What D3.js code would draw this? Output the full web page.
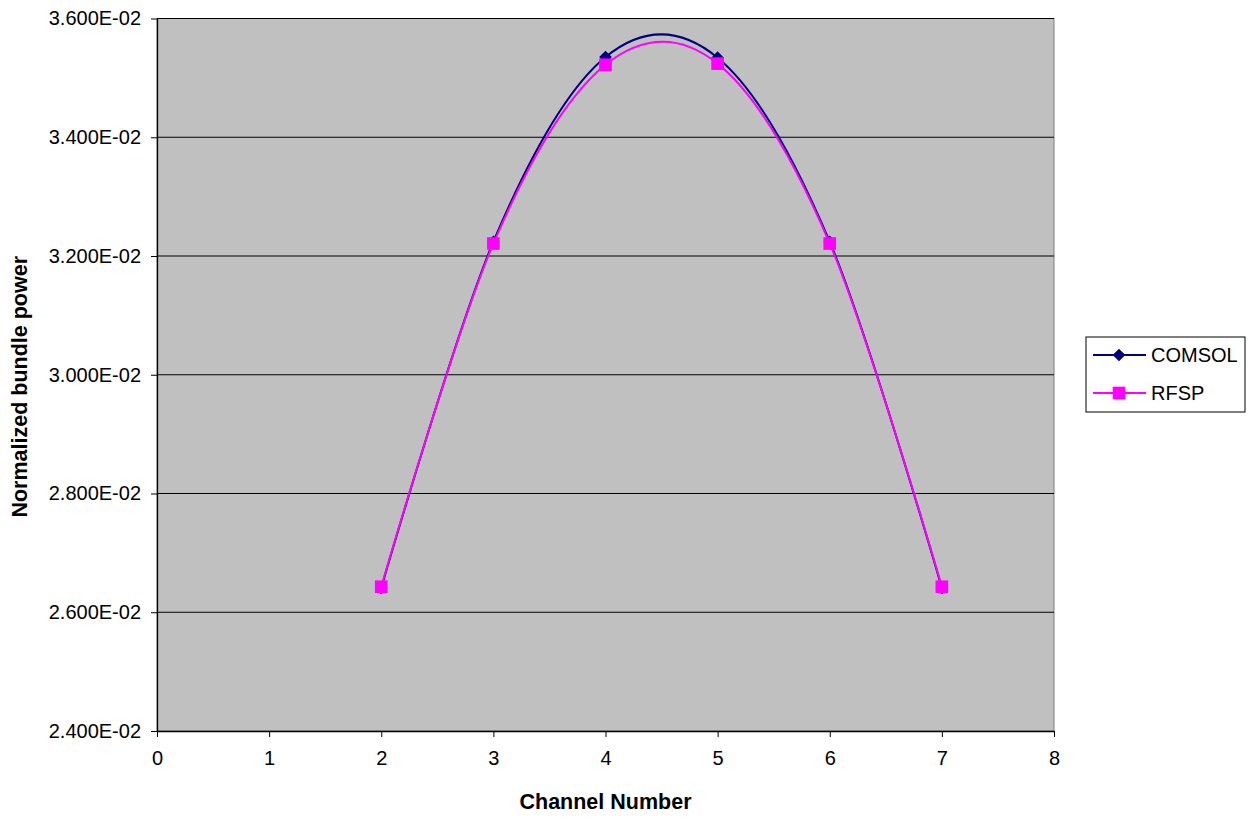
<!DOCTYPE html>
<html>
<head>
<meta charset="utf-8">
<script src="https://cdn.jsdelivr.net/npm/d3@7"></script>
<style>
  body { margin: 0; background: #fff; }
  text { font-family: "Liberation Sans", Arial, sans-serif; }
</style>
</head>
<body>
<div id="chart"></div>
<script>
const channels = [2, 3, 4, 5, 6, 7];
const comsol = [0.02641, 0.03224, 0.03535, 0.03534, 0.03224, 0.02641];
const rfsp = [0.02643, 0.03221, 0.03522, 0.03524, 0.03221, 0.02643];
const yTicks = [0.024, 0.026, 0.028, 0.030, 0.032, 0.034, 0.036];
const xTicks = [0, 1, 2, 3, 4, 5, 6, 7, 8];

const width = 1250, height = 820;
const margin = {left: 157, top: 18.5, right: 1054, bottom: 731};

const svg = d3.select('#chart').append('svg')
    .attr('width', width).attr('height', height);

const x = d3.scaleLinear().domain([0, 8]).range([margin.left, margin.right]);
const y = d3.scaleLinear().domain([0.024, 0.036]).range([margin.bottom, margin.top]);

// plot background
svg.append('rect')
    .attr('x', margin.left).attr('y', margin.top)
    .attr('width', margin.right - margin.left).attr('height', margin.bottom - margin.top)
    .attr('fill', '#c0c0c0').attr('stroke', '#808080').attr('stroke-width', 1);

// grid lines
svg.append('g').selectAll('line')
    .data(yTicks.slice(1))
    .enter().append('line')
    .attr('x1', margin.left).attr('x2', margin.right)
    .attr('y1', d => y(d)).attr('y2', d => y(d))
    .attr('stroke', '#000').attr('stroke-width', 1);

// axes
const fmt = d => d.toExponential(3).toUpperCase().replace(/E([+-])(\d)$/, 'E$10$2');
const yAxis = svg.append('g')
    .attr('transform', `translate(${margin.left},0)`)
    .call(d3.axisLeft(y).tickValues(yTicks).tickFormat(fmt).tickSize(6).tickSizeOuter(0));
const xAxis = svg.append('g')
    .attr('transform', `translate(0,${margin.bottom})`)
    .call(d3.axisBottom(x).tickValues(xTicks).tickFormat(d3.format('d')).tickSize(6).tickSizeOuter(0));

[yAxis, xAxis].forEach(a => {
    a.select('.domain').attr('stroke', '#000').attr('stroke-width', 1.3);
    a.selectAll('.tick line').attr('stroke', '#000');
    a.selectAll('.tick text').attr('font-size', 20).attr('fill', '#000')
        .attr('font-family', '"Liberation Sans", Arial, sans-serif');
});
yAxis.selectAll('.tick text').attr('x', -16);
xAxis.selectAll('.tick text').attr('y', 20);

// axis titles
svg.append('text')
    .attr('x', (margin.left + margin.right) / 2 + 0).attr('y', 809)
    .attr('text-anchor', 'middle').attr('font-size', 21.5).attr('font-weight', 'bold')
    .text('Channel Number');
svg.append('text')
    .attr('transform', `translate(27,${(margin.top + margin.bottom) / 2 + 12}) rotate(-90)`)
    .attr('text-anchor', 'middle').attr('font-size', 21.5).attr('font-weight', 'bold')
    .text('Normalized bundle power');

const series = [
    {name: 'COMSOL', values: comsol, color: '#000080', symbol: d3.symbolSquare, size: 80, rot: 45},
    {name: 'RFSP', values: rfsp, color: '#ff00ff', symbol: d3.symbolSquare, size: 160, rot: 0}
];

const line = d3.line()
    .x((d, i) => x(channels[i]))
    .y(d => y(d))
    .curve(d3.curveCatmullRom.alpha(0));

series.forEach(s => {
    svg.append('path')
        .datum(s.values)
        .attr('d', line)
        .attr('fill', 'none').attr('stroke', s.color).attr('stroke-width', 2);
});
series.forEach(s => {
    svg.append('g').selectAll('path')
        .data(s.values)
        .enter().append('path')
        .attr('transform', (d, i) => `translate(${x(channels[i])},${y(d)}) rotate(${s.rot})`)
        .attr('d', d3.symbol().type(s.symbol).size(s.size))
        .attr('fill', s.color);
});

// legend
const legend = svg.append('g').attr('transform', 'translate(1086,337)');
legend.append('rect')
    .attr('width', 159).attr('height', 75)
    .attr('fill', '#fff').attr('stroke', '#000').attr('stroke-width', 1);
series.forEach((s, i) => {
    const g = legend.append('g').attr('transform', `translate(0,${18 + i * 38})`);
    g.append('line').attr('x1', 7).attr('x2', 60).attr('stroke', s.color).attr('stroke-width', 2);
    g.append('path').attr('transform', `translate(33,0) rotate(${s.rot})`)
        .attr('d', d3.symbol().type(s.symbol).size(s.size)).attr('fill', s.color);
    g.append('text').attr('x', 65).attr('y', 7).attr('font-size', 20).text(s.name);
});
</script>
</body>
</html>
